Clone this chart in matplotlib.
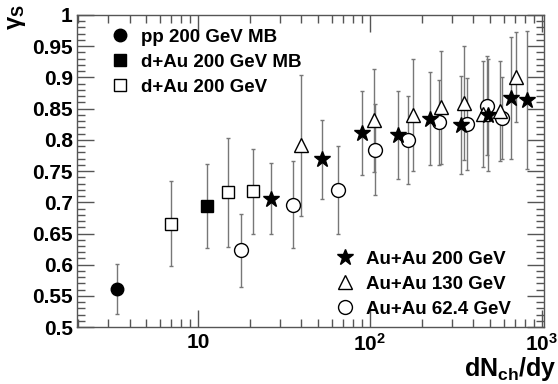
import numpy as np
import matplotlib
matplotlib.use("Agg")
import matplotlib.pyplot as plt
from matplotlib.lines import Line2D
from matplotlib.ticker import FixedLocator, MultipleLocator, NullFormatter

plt.rcParams['font.family'] = ['Liberation Sans', 'DejaVu Sans']
plt.rcParams['font.weight'] = 'bold'
plt.rcParams['mathtext.fontset'] = 'custom'
plt.rcParams['mathtext.rm'] = 'Liberation Sans:bold'
plt.rcParams['mathtext.it'] = 'Liberation Sans:bold'
plt.rcParams['mathtext.bf'] = 'Liberation Sans:bold'

# data
pp_x = [3.4]
pp_y = [0.561]
pp_e = [0.040]

dau_mb_x = [11.3]
dau_mb_y = [0.694]
dau_mb_e = [0.068]

dau_x = [7.0, 14.9, 20.8]
dau_y = [0.666, 0.716, 0.718]
dau_e = [0.068, 0.087, 0.068]

au200_x = [26.5, 52.4, 90, 146, 223, 338, 487, 658, 822]
au200_y = [0.706, 0.769, 0.811, 0.808, 0.834, 0.824, 0.840, 0.867, 0.864]
au200_e = [0.057, 0.063, 0.068, 0.070, 0.075, 0.078, 0.090, 0.098, 0.110]

au130_x = [39.7, 105.5, 179, 259, 352, 456, 570, 707]
au130_y = [0.791, 0.831, 0.840, 0.852, 0.859, 0.842, 0.846, 0.900]
au130_e = [0.113, 0.082, 0.090, 0.090, 0.092, 0.085, 0.080, 0.072]

au62_x = [17.7, 35.5, 65, 107, 167, 252, 365, 481, 588]
au62_y = [0.623, 0.696, 0.720, 0.784, 0.800, 0.828, 0.825, 0.855, 0.835]
au62_e = [0.058, 0.070, 0.070, 0.073, 0.070, 0.068, 0.074, 0.080, 0.065]

fig = plt.figure(figsize=(5.58, 3.84), dpi=100)
ax = fig.add_axes([0.138, 0.148, 0.837, 0.813])

ecol = '#777777'


def draw(x, y, e, marker, fc, ms):
    ax.errorbar(x, y, yerr=e, fmt='none', ecolor=ecol, elinewidth=1.0,
                capsize=1.5, capthick=1.0, zorder=2)
    ax.plot(x, y, linestyle='none', marker=marker, markersize=ms,
            markerfacecolor=fc, markeredgecolor='black', markeredgewidth=1.0,
            zorder=3)


draw(pp_x, pp_y, pp_e, 'o', 'black', 9)
draw(dau_mb_x, dau_mb_y, dau_mb_e, 's', 'black', 9)
draw(dau_x, dau_y, dau_e, 's', 'white', 9)
draw(au62_x, au62_y, au62_e, 'o', 'white', 10)
draw(au130_x, au130_y, au130_e, '^', 'white', 10)
draw(au200_x, au200_y, au200_e, '*', 'black', 12)

ax.set_xscale('log')
ax.set_xlim(1.98, 1030)
ax.set_ylim(0.5, 1.0)

ax.xaxis.set_major_locator(FixedLocator([10, 100, 1000]))
ax.set_xticklabels(['10', r'$10^{2}$', r'$10^{3}$'])
ax.xaxis.set_minor_locator(FixedLocator(
    [k * 10 ** p for p in range(0, 3) for k in range(2, 10)]))
ax.xaxis.set_minor_formatter(NullFormatter())
ax.yaxis.set_minor_locator(MultipleLocator(0.01))
ax.set_yticks(np.arange(0.5, 1.001, 0.05))
ax.set_yticklabels(['0.5', '0.55', '0.6', '0.65', '0.7', '0.75', '0.8',
                    '0.85', '0.9', '0.95', '1'])

ax.tick_params(which='both', direction='in', top=True, right=True,
               color='#555555', labelsize=15)
ax.tick_params(which='major', length=12, width=1.0)
ax.tick_params(which='minor', length=6, width=1.0)
ax.tick_params(axis='x', which='major', pad=4)
ax.tick_params(axis='y', which='major', pad=3)
for s in ax.spines.values():
    s.set_color('#555555')
    s.set_linewidth(1.0)

fig.text(0.998, 0.02, r'dN$_{ch}$/dy', ha='right', va='baseline',
         fontsize=18, fontweight='bold')
fig.text(0.03, 0.955, 'γ$_{S}$', ha='center', va='center',
         rotation='vertical', fontsize=17)


def handle(marker, fc, ms):
    return Line2D([], [], linestyle='none', marker=marker, markersize=ms,
                  markerfacecolor=fc, markeredgecolor='black',
                  markeredgewidth=1.0)


h1 = [handle('o', 'black', 9), handle('s', 'black', 9), handle('s', 'white', 9)]
l1 = ['pp 200 GeV MB', 'd+Au 200 GeV MB', 'd+Au 200 GeV']
leg1 = ax.legend(h1, l1, loc='upper left', bbox_to_anchor=(0.034, 1.01),
                 frameon=False, fontsize=13.5, handlelength=1.1,
                 handletextpad=0.55, labelspacing=0.42)
ax.add_artist(leg1)

h2 = [handle('*', 'black', 12), handle('^', 'white', 10), handle('o', 'white', 10)]
l2 = ['Au+Au 200 GeV', 'Au+Au 130 GeV', 'Au+Au 62.4 GeV']
ax.legend(h2, l2, loc='lower left', bbox_to_anchor=(0.516, -0.024),
          frameon=False, fontsize=13.5, handlelength=1.1,
          handletextpad=0.55, labelspacing=0.42)

fig.savefig('out.png', dpi=100)
